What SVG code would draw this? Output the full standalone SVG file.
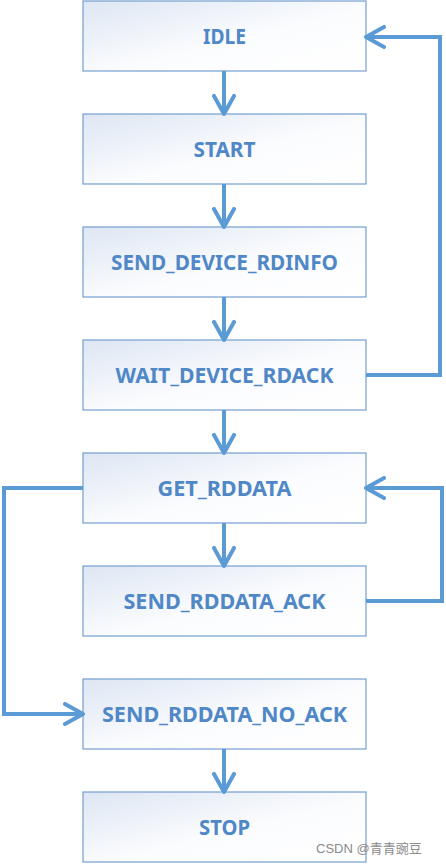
<svg xmlns="http://www.w3.org/2000/svg" width="446" height="864" viewBox="0 0 446 864">
<defs>
<linearGradient id="g" x1="0" y1="0" x2="1" y2="1">
<stop offset="0" stop-color="#dde6f3"/>
<stop offset="0.55" stop-color="#fbfcfe"/>
<stop offset="1" stop-color="#ffffff"/>
</linearGradient>
<marker id="ah" viewBox="0 0 24 24" refX="20" refY="12" markerWidth="24" markerHeight="24" markerUnits="userSpaceOnUse" orient="auto">
<path d="M2,2 L20,12 L2,22" fill="none" stroke="#5b9bd5" stroke-width="4" stroke-linecap="round" stroke-linejoin="round"/>
</marker>
</defs>
<style>
.box{fill:url(#g);stroke:#739fd0;stroke-width:1.2}
.t{font-family:"Noto Sans","Open Sans",sans-serif;font-weight:bold;font-size:21px;fill:#4f87c7;text-anchor:middle}
.c{fill:none;stroke:#5b9bd5;stroke-width:4;stroke-linejoin:miter;marker-end:url(#ah)}
.w{font-family:"Liberation Sans","Noto Sans CJK SC",sans-serif;font-size:13px;fill:#8a8a8a}
</style>
<g id="n-idle"><rect class="box" x="83" y="1" width="283" height="70"/><text class="t" x="224.5" y="44" textLength="43" lengthAdjust="spacingAndGlyphs">IDLE</text></g>
<g id="n-start"><rect class="box" x="83" y="114" width="283" height="70"/><text class="t" x="224.5" y="157" textLength="62" lengthAdjust="spacingAndGlyphs">START</text></g>
<g id="n-send-device-rdinfo"><rect class="box" x="83" y="227" width="283" height="70"/><text class="t" x="224.5" y="270" textLength="227" lengthAdjust="spacingAndGlyphs">SEND_DEVICE_RDINFO</text></g>
<g id="n-wait-device-rdack"><rect class="box" x="83" y="340" width="283" height="70"/><text class="t" x="224.5" y="383" textLength="218" lengthAdjust="spacingAndGlyphs">WAIT_DEVICE_RDACK</text></g>
<g id="n-get-rddata"><rect class="box" x="83" y="453" width="283" height="70"/><text class="t" x="224.5" y="496" textLength="134" lengthAdjust="spacingAndGlyphs">GET_RDDATA</text></g>
<g id="n-send-rddata-ack"><rect class="box" x="83" y="566" width="283" height="70"/><text class="t" x="224.5" y="609" textLength="202" lengthAdjust="spacingAndGlyphs">SEND_RDDATA_ACK</text></g>
<g id="n-send-rddata-no-ack"><rect class="box" x="83" y="679" width="283" height="70"/><text class="t" x="224.5" y="722" textLength="245" lengthAdjust="spacingAndGlyphs">SEND_RDDATA_NO_ACK</text></g>
<g id="n-stop"><rect class="box" x="83" y="792" width="283" height="70"/><text class="t" x="224.5" y="835" textLength="51" lengthAdjust="spacingAndGlyphs">STOP</text></g>
<g id="connectors">
<path class="c" d="M224,71 L224,114"/>
<path class="c" d="M224,184 L224,227"/>
<path class="c" d="M224,297 L224,340"/>
<path class="c" d="M224,410 L224,453"/>
<path class="c" d="M224,523 L224,566"/>
<path class="c" d="M224,749 L224,792"/>
<path class="c" d="M366,375 L440,375 L440,37 L366,37"/>
<path class="c" d="M366,601 L442,601 L442,488 L366,488"/>
<path class="c" d="M83,488 L4,488 L4,714 L83,714"/>
</g>
<text class="w" x="316" y="853">CSDN @青青豌豆</text>
</svg>
